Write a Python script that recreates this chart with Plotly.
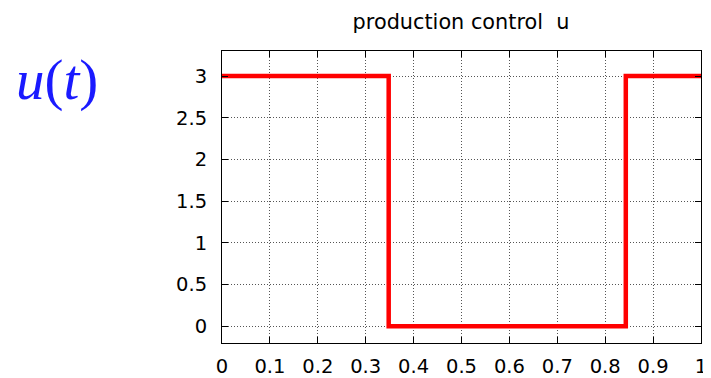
import plotly.graph_objects as go

# data: switching times of the bang-bang production control
t_points = [0.0, 0.348, 0.843, 1.0]
u_values = [3, 0, 3, 3]

x_ticks = [0, 0.1, 0.2, 0.3, 0.4, 0.5, 0.6, 0.7, 0.8, 0.9, 1]
x_tick_labels = ["0", "0.1", "0.2", "0.3", "0.4", "0.5", "0.6", "0.7", "0.8", "0.9", "1"]
y_ticks = [0, 0.5, 1, 1.5, 2, 2.5, 3]
y_tick_labels = ["0", "0.5", "1", "1.5", "2", "2.5", "3"]

W, H = 703, 370          # page body has an 8px margin
L, R, T, B = 214, 10, 43, 35
PW, PH = W - L - R, H - T - B

fig = go.Figure()
fig.add_trace(go.Scatter(
    x=t_points, y=u_values, mode="lines",
    line=dict(color="#ff0000", width=4.5, shape="hv"),
    showlegend=False, hoverinfo="skip",
))

axis_common = dict(
    showline=True, linecolor="black", linewidth=1, mirror="ticks",
    ticks="inside", ticklen=6, tickcolor="black", tickwidth=1,
    showgrid=True, gridcolor="#555555", gridwidth=1, griddash="1px,2px",
    zeroline=False, automargin=False,
    tickfont=dict(family="DejaVu Sans", size=19.5, color="black"),
)

fig.update_xaxes(range=[0, 1], tickvals=x_ticks, ticktext=x_tick_labels,
                 ticklabelstandoff=6, **axis_common)
fig.update_yaxes(range=[-0.2, 3.3], tickvals=y_ticks, ticktext=y_tick_labels,
                 ticklabelstandoff=10, **axis_common)

fig.update_layout(
    width=W, height=H,
    margin=dict(l=L, r=R, t=T, b=B),
    paper_bgcolor="white", plot_bgcolor="white",
    title=dict(text="production control  u", x=(461 - 8) / W, xanchor="center",
               y=1 - (22 - 8) / H, yanchor="middle",
               font=dict(family="DejaVu Sans", size=20.8, color="black")),
    annotations=[dict(
        text="<i>u</i>(<i>t</i>)", xref="paper", yref="paper",
        x=(57 - 8 - L) / PW, y=1 + (T - (80 - 8)) / PH,
        xanchor="center", yanchor="middle", showarrow=False,
        font=dict(family="Liberation Serif", size=57, color="#1a1aff"),
    )],
)

fig.write_html("out.html")
